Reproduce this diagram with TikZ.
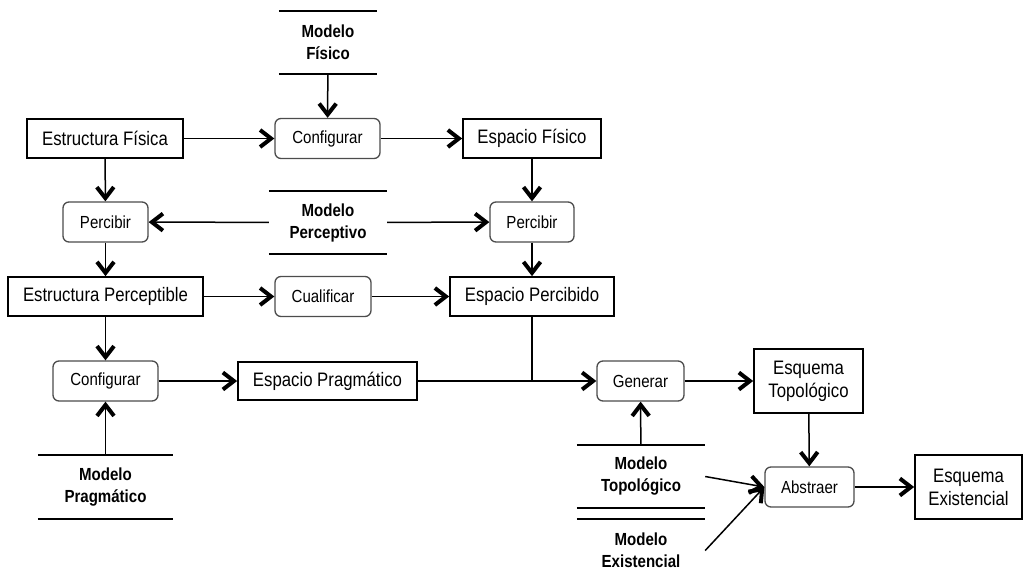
\documentclass[tikz,border=0pt]{standalone}
\usepackage{fontspec}
\setmainfont{Liberation Sans}[FakeStretch=0.86]
\usetikzlibrary{arrows.meta}
\begin{document}
\begin{tikzpicture}[x=1pt,y=-1pt,
  ent/.style={draw, line width=1.7pt, inner sep=0pt, align=center, font=\fontsize{19.5}{23}\selectfont},
  proc/.style={draw=black!70, line width=1.3pt, rounded corners=6pt, inner sep=0pt, minimum height=40, font=\fontsize{17.5}{20}\selectfont},
  model/.style={inner sep=0pt, minimum width=128, minimum height=63, align=center, font=\fontsize{17.5}{22}\selectfont\bfseries},
  rule/.style={line width=1.7pt},
  flow/.style={line width=1.5pt, -{Straight Barb[length=11pt,width=17pt,line width=4pt]}}]
\useasboundingbox (0,0) rectangle (1023,581);
\node[ent, minimum width=156, minimum height=39] (efis) at (105,138.5) {Estructura Física};
\node[proc, minimum width=105] (conf1) at (327.5,138.5) {Configurar};
\node[ent, minimum width=138, minimum height=39] (espf) at (532,138.5) {Espacio Físico};
\node[model, minimum width=98] (mfis) at (328,42.5) {Modelo\\Físico};
\node[proc, minimum width=85] (perc1) at (105.5,222) {Percibir};
\node[model, minimum width=118] (mper) at (328,222.5) {Modelo\\Perceptivo};
\node[proc, minimum width=84] (perc2) at (532,222) {Percibir};
\node[ent, minimum width=195, minimum height=39] (eperc) at (105.5,296.5) {Estructura Perceptible};
\node[proc, minimum width=96] (cual) at (323,296.5) {Cualificar};
\node[ent, minimum width=164, minimum height=39] (esperc) at (532,296.5) {Espacio Percibido};
\node[proc, minimum width=105] (conf2) at (105.5,381) {Configurar};
\node[ent, minimum width=179, minimum height=38] (espra) at (327.5,381) {Espacio Pragmático};
\node[model, minimum width=135] (mpra) at (105.5,487) {Modelo\\Pragmático};
\node[proc, minimum width=87] (gen) at (640.5,381) {Generar};
\node[ent, minimum width=109, minimum height=64] (etop) at (808.5,381) {Esquema\\Topológico};
\node[model] (mtop) at (641,476.5) {Modelo\\Topológico};
\node[model] (mexi) at (641,550.5) {Modelo\\Existencial};
\node[proc, minimum width=89] (abs) at (809.5,487) {Abstraer};
\node[ent, minimum width=107, minimum height=64] (eexi) at (968.5,487) {Esquema\\Existencial};
\coordinate (join) at (esperc.south |- gen.west);
\draw[rule] (mfis.north west) -- (mfis.north east) (mfis.south west) -- (mfis.south east);
\draw[rule] (mper.north west) -- (mper.north east) (mper.south west) -- (mper.south east);
\draw[rule] (mpra.north west) -- (mpra.north east) (mpra.south west) -- (mpra.south east);
\draw[rule] (mtop.north west) -- (mtop.north east) (mtop.south west) -- (mtop.south east);
\draw[rule] (mexi.north west) -- (mexi.north east);
\draw[flow] (efis) -- (conf1);
\draw[flow] (conf1) -- (espf);
\draw[flow] (mfis) -- (conf1);
\draw[flow] (efis) -- (perc1);
\draw[flow] (mper) -- (perc1);
\draw[flow] (mper) -- (perc2);
\draw[flow] (espf) -- (perc2);
\draw[flow] (perc1) -- (eperc);
\draw[flow] (perc2) -- (esperc);
\draw[flow] (eperc) -- (cual);
\draw[flow] (cual) -- (esperc);
\draw[flow] (eperc) -- (conf2);
\draw[flow] (mpra) -- (conf2);
\draw[flow] (conf2) -- (espra);
\draw[flow] (espra) -- (gen);
\draw[line width=1.5pt] (esperc) -- (join);
\draw[flow] (mtop) -- (gen);
\draw[flow] (gen) -- (etop);
\draw[flow] (etop) -- (abs);
\draw[flow] (mtop.east) -- (abs.west);
\draw[flow] (mexi.east) -- (abs.west);
\draw[flow] (abs) -- (eexi);
\end{tikzpicture}
\end{document}
